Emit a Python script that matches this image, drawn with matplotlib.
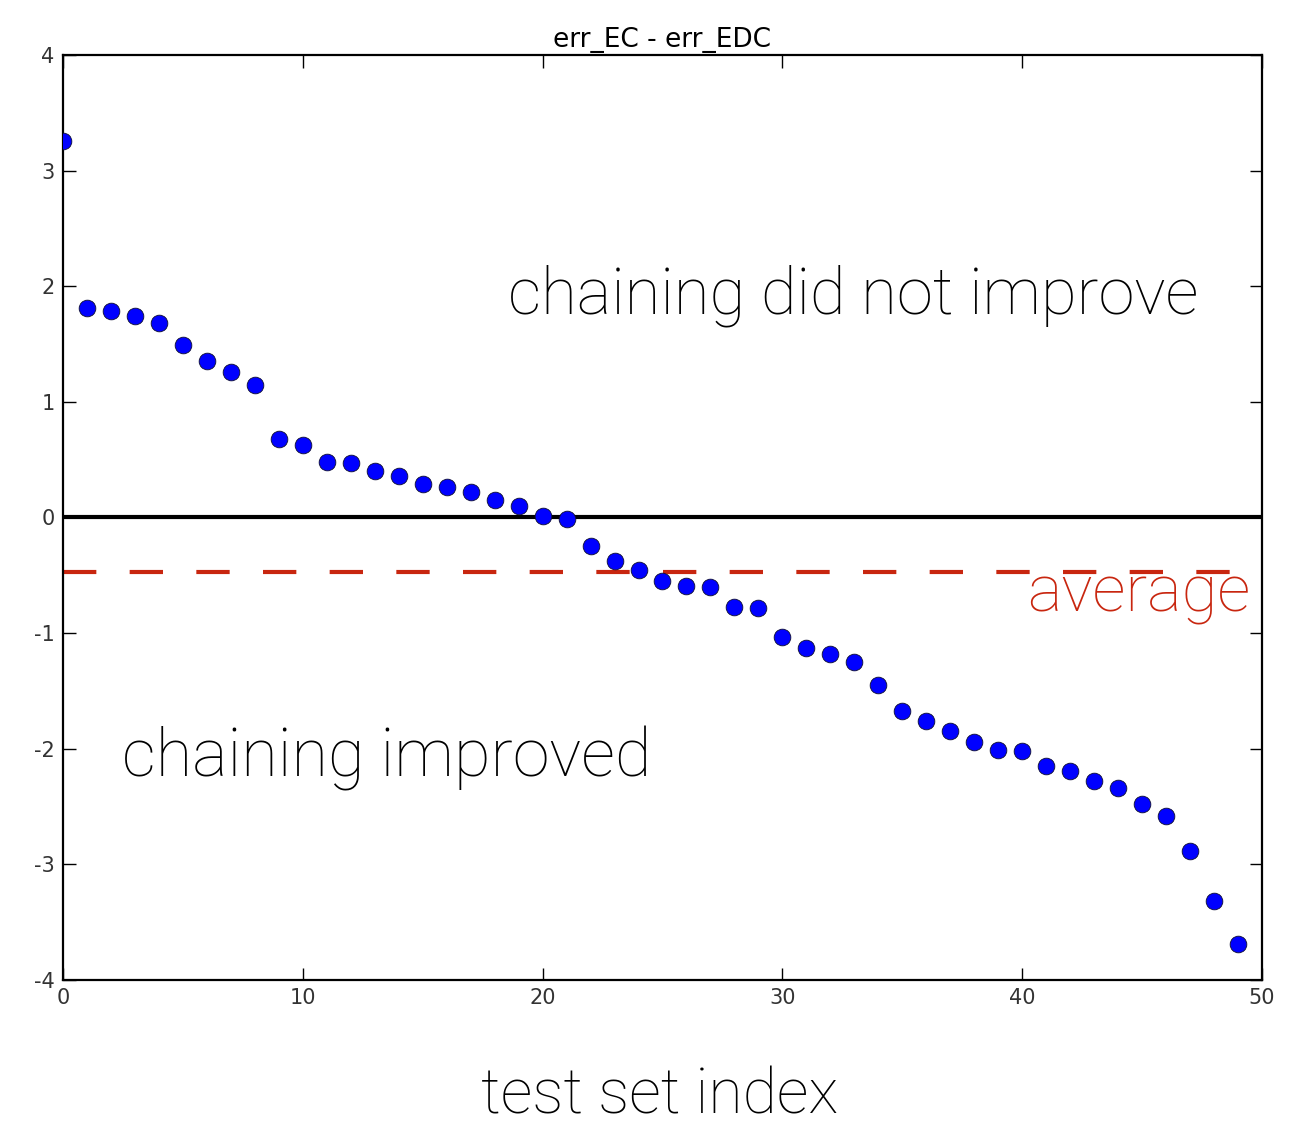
import numpy as np
import matplotlib.pyplot as plt

plt.rcParams["axes.unicode_minus"] = False

# ==========================
# data
# ==========================
test_index = list(range(50))
err_diff = [3.26, 1.81, 1.79, 1.74, 1.68, 1.49, 1.35, 1.26, 1.15, 0.68,
            0.63, 0.48, 0.47, 0.40, 0.36, 0.29, 0.26, 0.22, 0.15, 0.10,
            0.01, -0.01, -0.25, -0.38, -0.45, -0.55, -0.59, -0.60, -0.77, -0.78,
            -1.03, -1.13, -1.18, -1.25, -1.45, -1.67, -1.76, -1.85, -1.94, -2.01,
            -2.02, -2.15, -2.19, -2.28, -2.34, -2.48, -2.58, -2.88, -3.32, -3.69]
average = -0.47

x_ticks = [0, 10, 20, 30, 40, 50]
y_ticks = [-4, -3, -2, -1, 0, 1, 2, 3, 4]

# ==========================
# figure
# ==========================
fig = plt.figure(figsize=(13.04, 11.33), dpi=100)
ax = fig.add_axes([0.0483, 0.135, 0.9195, 0.8165])

ax.axhline(0, color="black", linewidth=3, zorder=2)
ax.axhline(average, color="#c8260f", linewidth=3, linestyle=(0, (8, 8)), zorder=2)
# first point sits on the left spine and gets clipped, as in the original
ax.plot(test_index, err_diff, "o", color="blue", markeredgecolor="#101030",
        markeredgewidth=0.6, markersize=12, zorder=3)

ax.set_xlim(0, 50)
ax.set_ylim(-4, 4)
ax.set_xticks(x_ticks)
ax.set_yticks(y_ticks)
ax.tick_params(direction="in", length=9, width=1, top=True, right=True,
               labelsize=15, labelcolor="#333333", pad=6)
for s in ax.spines.values():
    s.set_linewidth(1.6)

ax.set_title("err_EC - err_EDC", fontsize=19, pad=6)

# big annotation text
ann = dict(family="Roboto", weight="light", fontsize=47)
ax.text(0.371, 0.721, "chaining did not improve", transform=ax.transAxes,
        color="black", va="baseline", ha="left", **ann)
ax.text(0.049, 0.2205, "chaining improved", transform=ax.transAxes,
        color="black", va="baseline", ha="left", fontsize=48,
        family="Roboto", weight="light")
ax.text(0.99, 0.398, "average", transform=ax.transAxes,
        color="#c8260f", va="baseline", ha="right", **ann)
fig.text(0.506, 0.017, "test set index", ha="center", va="baseline",
         family="Roboto", weight="light", fontsize=45)

plt.savefig("out.png", dpi=100)
